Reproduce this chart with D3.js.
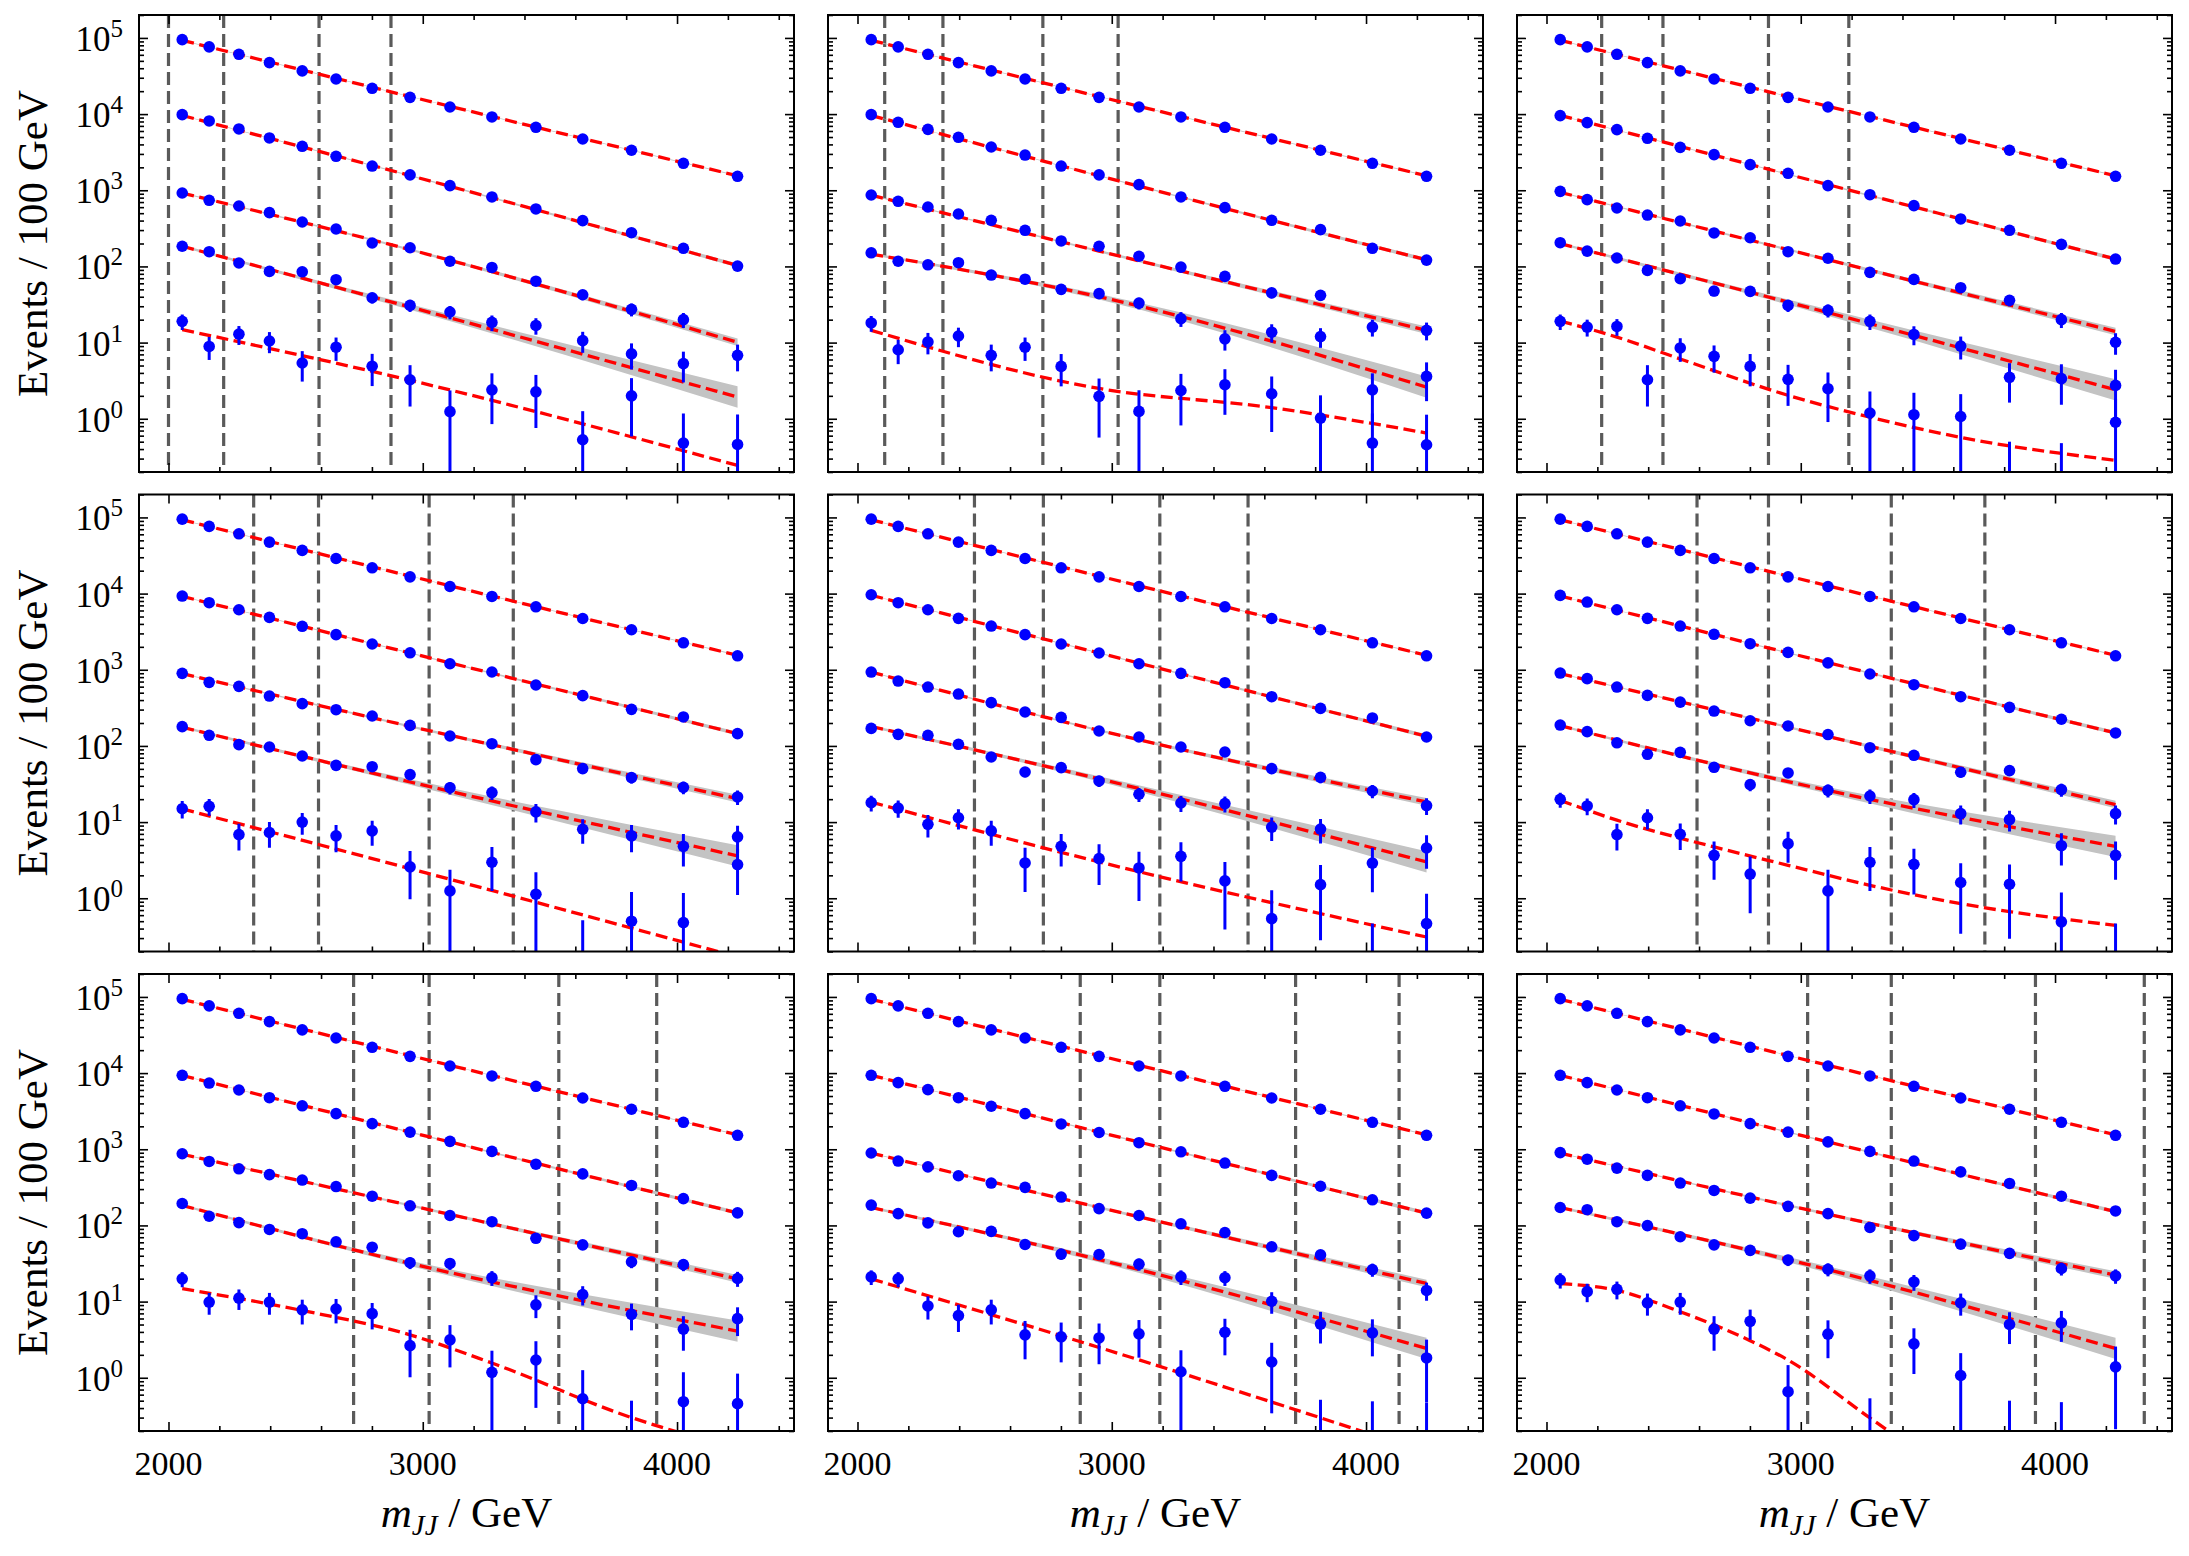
<!DOCTYPE html>
<html lang="en">
<head>
  <meta charset="UTF-8">
  <script src="https://d3js.org/d3.v7.min.js"></script>
  <style>
    body { margin: 0; background: #fff; }
    text { font-family: "Liberation Serif", "DejaVu Serif", serif; }
  </style>
  <title>mJJ fits</title>
</head>
<body>
<svg id="chart" width="2189" height="1556"></svg>
<script>
  // bin centres (GeV), shared by every panel
  var binCenters = [2054, 2160, 2277, 2397, 2526, 2659, 2801, 2950, 3107, 3272, 3445, 3629, 3821, 4025, 4238];
  var massTicks = [2000, 3000, 4000];
  var massMinor = [2200, 2400, 2600, 2800, 3200, 3400, 3600, 3800, 4200, 4400];
  var decadeExps = [0, 1, 2, 3, 4, 5];

  // top series is the same in every panel
  var countsA = [95000, 76200, 61000, 47400, 36900, 28900, 21800, 16600, 12400, 9170, 6710, 4710, 3350, 2260, 1524];
  var fitA = [[0, 93000], [7, 17000], [14, 1550]];

  // fit knots are [bin index, value]
  var counts1 = [
    [9840, 8130, 6380, 4860, 3780, 2790, 2080, 1590, 1150, 817, 568, 399, 277, 173, 101],
    [920, 738, 621, 508, 383, 310, 203, 176, 117, 97, 64, 42.5, 27.3, 20, 6.8],
    [184, 156, 111, 86, 85, 67, 38.8, 30.8, 25.2, 18.4, 16.8, 10.6, 7.1, 5.3, 0.46],
    [19, 8.9, 12.9, 10.5, 5.4, 8.7, 4.9, 3.25, 1.24, 2.4, 2.26, 0.53, 2.0, 0.48, null]];
  var fits1 = [
    [[0, 9600], [7, 1560], [14, 103]],
    [[0, 920], [7, 166], [14, 10.1]],
    [[0, 184], [7, 29.3], [14, 1.93]],
    [[0, 14.8], [7, 3.2], [14, 0.244]]];
  var windows1 = [2000, 2217, 2592, 2875];

  var counts2 = [
    [9840, 7800, 6310, 4960, 3700, 2900, 2080, 1590, 1185, 817, 592, 403, 304, 173, 121],
    [867, 716, 603, 488, 403, 298, 216, 184, 136, 98, 74, 45, 41.7, 16, 14.5],
    [151, 117, 105, 112, 77, 68, 50, 43.9, 33, 20.6, 11.2, 13.7, 12, 2.4, 3.6],
    [18.1, 8.05, 10.2, 12.2, 6.8, 8.7, 4.87, 1.97, 1.25, 2.35, 2.8, 2.13, 1.02, 0.48, 0.456]];
  var fits2 = [
    [[0, 9600], [7, 1550], [14, 122]],
    [[0, 860], [7, 159], [14, 14.5]],
    [[0, 145], [7, 40], [14, 2.6]],
    [[0, 14.5], [7, 2.5], [11, 1.4], [14, 0.65]]];
  var windows2 = [2107, 2336, 2729, 3025];

  var counts3 = [
    [9550, 7730, 6250, 4810, 3660, 2940, 2170, 1670, 1150, 875, 628, 420, 298, 195, 125],
    [968, 753, 585, 473, 395, 275, 238, 156, 128, 83.6, 67.6, 52.6, 35.9, 20, 10.1],
    [205, 159, 129, 88.7, 69, 47.5, 47, 30.8, 26.5, 19, 12.8, 9.0, 3.5, 3.36, 2.74],
    [19, 16, 16.3, 3.25, 8.5, 6.6, 4.87, 3.29, 2.48, 1.19, 1.13, 1.07, 0.134, 0.125, 0.9]];
  var fits3 = [
    [[0, 9600], [7, 1620], [14, 125]],
    [[0, 940], [7, 166], [14, 14]],
    [[0, 199], [7, 34], [14, 2.4]],
    [[0, 19.2], [2, 11.8], [4, 6.1], [7, 2.03], [9, 1.05], [11, 0.57], [14, 0.284]]];
  var windows3 = [2217, 2458, 2873, 3189];

  var counts4 = [
    [9290, 7590, 6140, 4870, 3720, 2890, 2180, 1670, 1200, 934, 631, 457, 302, 240, 145],
    [897, 684, 606, 452, 359, 299, 247, 186, 135, 107, 66, 50.4, 38.4, 28.6, 21.4],
    [179, 138, 104, 96.8, 73.8, 55.6, 53.4, 42, 28.3, 24.4, 13.6, 8.05, 6.6, 4.8, 6.4],
    [15, 16.1, 6.86, 7.3, 10, 6.6, 7.66, 2.58, 1.25, 2.97, 1.13, 0.14, 0.5, 0.48, 2.77]];
  var fits4 = [
    [[0, 9200], [7, 1660], [14, 145]],
    [[0, 890], [7, 181], [14, 20.3]],
    [[0, 176], [7, 33.6], [14, 3.6]],
    [[0, 14.9], [7, 2.45], [14, 0.17]]];
  var windows4 = [2335, 2590, 3025, 3356];

  var counts5 = [
    [9660, 7590, 6140, 4730, 3750, 2890, 2180, 1660, 1200, 897, 676, 443, 311, 233, 131],
    [933, 711, 593, 480, 370, 279, 237, 157, 131, 96.8, 83.2, 50.4, 38.7, 25.6, 16.5],
    [170, 142, 138, 105, 71.6, 45.5, 51.9, 34.7, 23.2, 17.8, 17.5, 8.6, 8.1, 2.9, 4.57],
    [18, 15.3, 9.35, 11.4, 7.66, 2.91, 4.8, 3.31, 2.5, 3.55, 1.69, 0.54, 1.51, 0.12, 0.465]];
  var fits5 = [
    [[0, 9500], [7, 1660], [14, 134]],
    [[0, 930], [7, 160], [14, 18.4]],
    [[0, 180], [7, 37], [14, 3.0]],
    [[0, 18.3], [7, 3.0], [14, 0.31]]];
  var windows5 = [2460, 2731, 3189, 3536];

  var counts6 = [
    [9470, 7740, 6140, 4730, 3750, 2920, 2200, 1690, 1230, 880, 637, 443, 321, 224, 148],
    [906, 764, 593, 461, 376, 287, 214, 183, 141, 94.8, 75.3, 45.1, 47.4, 26.7, 12.9],
    [188, 154, 110, 77.6, 82.4, 52.4, 31, 44.2, 26.1, 22, 19.7, 12.9, 10.8, 4.9, 3.66],
    [19.9, 16.3, 6.86, 11.4, 6.92, 3.66, 2.08, 5.21, 1.25, 2.97, 2.79, 1.61, 1.53, 0.49, 0.12]];
  var fits6 = [
    [[0, 9300], [7, 1670], [14, 148]],
    [[0, 890], [7, 177], [14, 17]],
    [[0, 185], [7, 34], [14, 4.8]],
    [[0, 19.3], [2, 10.6], [5, 4.72], [7, 2.71], [9, 1.48], [11, 0.85], [14, 0.44]]];
  var windows6 = [2592, 2873, 3356, 3724];

  var counts7 = [
    [9350, 7400, 6000, 4750, 3720, 2940, 2170, 1680, 1270, 937, 637, 475, 335, 225, 146],
    [873, 692, 554, 465, 394, 324, 242, 181, 135, 112, 67.8, 55.5, 33.2, 30.6, 20.1],
    [194, 132, 109, 88.6, 77.9, 61, 51.8, 32.4, 31.7, 20.6, 9.08, 12.4, 6.8, 4.35, 5.97],
    [19.9, 9.86, 11.1, 9.86, 7.8, 8.0, 6.95, 2.64, 3.14, 1.18, 1.71, 0.53, 0.134, 0.485, 0.457]];
  var fits7 = [
    [[0, 9300], [7, 1680], [14, 146]],
    [[0, 860], [7, 183], [14, 19.9]],
    [[0, 183], [7, 31.7], [14, 4.1]],
    [[0, 14.8], [4, 7.64], [7, 3.66], [9, 1.56], [12, 0.30], [14, 0.117]]];
  var windows7 = [2728, 3025, 3535, 3920];

  var counts8 = [
    [9350, 7490, 6060, 4750, 3670, 2940, 2150, 1660, 1220, 926, 659, 454, 327, 217, 145],
    [893, 700, 587, 449, 360, 316, 236, 166, 135, 105, 80.7, 52.4, 41, 26.3, 14],
    [185, 143, 108, 82.6, 83.6, 56.2, 42, 41.5, 31, 21.1, 20.6, 10.1, 5.07, 3.88, 1.82],
    [21.1, 19.9, 8.77, 6.55, 7.8, 3.66, 3.45, 3.33, 3.78, 1.2, 3.96, 1.61, 0.14, 0.13, 0.12]];
  var fits8 = [
    [[0, 9350], [7, 1680], [14, 145]],
    [[0, 890], [7, 172], [14, 17.3]],
    [[0, 172], [7, 35.6], [14, 2.43]],
    [[0, 19.9], [7, 2.5], [14, 0.105]]];
  var windows8 = [2876, 3189, 3723, 4130];

  var counts9 = [
    [9350, 7490, 6000, 4750, 3720, 2910, 2170, 1680, 1250, 937, 700, 505, 356, 242, 155],
    [904, 741, 566, 454, 360, 288, 228, 178, 143, 94, 73.5, 56.9, 43, 27.2, 21.8],
    [172, 161, 112, 99.5, 71, 55.6, 47.1, 35.2, 26.6, 21.8, 18.1, 9.64, 5.01, 5.25, 1.39],
    [19.2, 13.5, 14.5, 9.64, 9.86, 4.35, 5.5, 0.656, 3.74, 0.15, 2.79, 1.07, 0.134, 0.125, null]];
  var fits9 = [
    [[0, 9350], [7, 1680], [14, 152]],
    [[0, 890], [7, 183], [14, 22.3]],
    [[0, 172], [7, 35.6], [14, 2.43]],
    [[0, 17.3], [2, 14], [4, 7.36], [6, 3.07], [7, 1.71], [9, 0.297], [10, 0.117]]];
  var windows9 = [3027, 3356, 3923, 4351];

  // half-width of the grey fit band in decades, at the knots (bins 0, 7, 14)
  var bandHalfWidth = [[0.004, 0.004, 0.008], [0.004, 0.008, 0.025], [0.006, 0.015, 0.05], [0.015, 0.035, 0.14], null];

  var panels = [
    [counts1, fits1, windows1], [counts2, fits2, windows2], [counts3, fits3, windows3],
    [counts4, fits4, windows4], [counts5, fits5, windows5], [counts6, fits6, windows6],
    [counts7, fits7, windows7], [counts8, fits8, windows8], [counts9, fits9, windows9]
  ].map(function(p) {
    return { counts: [countsA].concat(p[0]), fits: [fitA].concat(p[1]), windows: p[2] };
  });

  var colLeft = [139, 828, 1517], rowTop = [15, 494.5, 974];
  var W = 655, H = 457;

  var x = d3.scaleLinear().domain([1884, 4460]).range([0, W]);
  var y = d3.scaleLog().domain([0.2, 2e5]).range([H, 0]);

  var minorY = [];
  [0.1, 1, 10, 100, 1000, 10000, 100000].forEach(function(d) {
    for (var k = 2; k <= 9; k++) {
      var v = k * d;
      if (v >= 0.2 && v <= 2e5) minorY.push(v);
    }
  });
  var majorY = decadeExps.map(function(e) { return Math.pow(10, e); });

  var svg = d3.select('#chart');
  svg.append('rect').attr('width', 2189).attr('height', 1556).attr('fill', '#fff');

  var fitLine = d3.line()
    .x(function(d) { return x(binCenters[d[0]]); })
    .y(function(d) { return y(d[1]); })
    .curve(d3.curveMonotoneX);

  var bandArea = d3.area()
    .x(function(d) { return x(d[0]); })
    .y0(function(d) { return y(d[1]); })
    .y1(function(d) { return y(d[2]); })
    .curve(d3.curveMonotoneX);

  function tickAxis(axis, size) {
    return function(g) {
      g.call(axis.tickSize(-size).tickFormat(''));
      g.select('.domain').remove();
      g.selectAll('line').attr('stroke', '#000').attr('stroke-width', 1.6);
    };
  }

  panels.forEach(function(p, i) {
    var col = i % 3, row = Math.floor(i / 3);
    var g = svg.append('g').attr('transform', 'translate(' + colLeft[col] + ',' + rowTop[row] + ')');
    var clipId = 'clip' + i;
    g.append('clipPath').attr('id', clipId)
      .append('rect').attr('width', W).attr('height', H);
    var plot = g.append('g').attr('clip-path', 'url(#' + clipId + ')');

    // signal windows
    plot.selectAll('.win').data(p.windows).enter().append('line')
      .attr('x1', function(d) { return x(d); }).attr('x2', function(d) { return x(d); })
      .attr('y1', 0).attr('y2', H)
      .attr('stroke', '#5a5a5a').attr('stroke-width', 3.2)
      .attr('stroke-dasharray', '13,6');

    // fit uncertainty bands
    p.fits.forEach(function(f, s) {
      var w = bandHalfWidth[s];
      if (!w || f.length !== 3) return;
      var pts = f.map(function(k, j) {
        return [binCenters[k[0]], k[1] * Math.pow(10, -w[j]), k[1] * Math.pow(10, w[j])];
      });
      plot.append('path').attr('d', bandArea(pts))
        .attr('fill', '#c3c3c3').attr('stroke', 'none');
    });

    // fits
    p.fits.forEach(function(f) {
      plot.append('path').attr('d', fitLine(f))
        .attr('fill', 'none').attr('stroke', '#ff0000')
        .attr('stroke-width', 3.3).attr('stroke-dasharray', '12,5.5');
    });

    // data with Poisson error bars as drawn
    p.counts.forEach(function(series) {
      var pts = series.map(function(v, j) { return { m: binCenters[j], v: v }; })
        .filter(function(d) { return d.v !== null; });
      plot.selectAll(null).data(pts).enter().append('line')
        .attr('x1', function(d) { return x(d.m); }).attr('x2', function(d) { return x(d.m); })
        .attr('y1', function(d) { return y(d.v + Math.sqrt(d.v)); })
        .attr('y2', function(d) {
          var lo = d.v - Math.sqrt(d.v);
          return lo > 0 ? y(lo) : H + 10;
        })
        .attr('stroke', '#0000ff').attr('stroke-width', 3);
      plot.selectAll(null).data(pts).enter().append('circle')
        .attr('cx', function(d) { return x(d.m); })
        .attr('cy', function(d) { return y(d.v); })
        .attr('r', 5.8).attr('fill', '#0000ff');
    });

    // ticks on all four sides, pointing in
    g.append('g').attr('transform', 'translate(0,' + H + ')')
      .call(tickAxis(d3.axisBottom(x).tickValues(massTicks), 9));
    g.append('g').attr('transform', 'translate(0,' + H + ')')
      .call(tickAxis(d3.axisBottom(x).tickValues(massMinor), 5));
    g.append('g').call(tickAxis(d3.axisTop(x).tickValues(massTicks), 9));
    g.append('g').call(tickAxis(d3.axisTop(x).tickValues(massMinor), 5));
    g.append('g').call(tickAxis(d3.axisLeft(y).tickValues(majorY), 9));
    g.append('g').call(tickAxis(d3.axisLeft(y).tickValues(minorY), 5));
    g.append('g').attr('transform', 'translate(' + W + ',0)')
      .call(tickAxis(d3.axisRight(y).tickValues(majorY), 9));
    g.append('g').attr('transform', 'translate(' + W + ',0)')
      .call(tickAxis(d3.axisRight(y).tickValues(minorY), 5));

    g.append('rect').attr('width', W).attr('height', H)
      .attr('fill', 'none').attr('stroke', '#000').attr('stroke-width', 2);

    // y tick labels on the left column
    if (col === 0) {
      var lab = g.selectAll('.ylab').data(decadeExps).enter().append('text')
        .attr('x', -16)
        .attr('y', function(e) { return y(Math.pow(10, e)) + 13; })
        .attr('text-anchor', 'end').attr('font-size', 35);
      lab.append('tspan').text('10');
      lab.append('tspan').attr('font-size', 25).attr('dy', -14).text(function(e) { return e; });

      svg.append('text')
        .attr('transform', 'translate(47,' + (rowTop[row] + H / 2) + ') rotate(-90)')
        .attr('text-anchor', 'middle').attr('font-size', 43)
        .text('Events / 100 GeV');
    }

    // x tick labels and title on the bottom row
    if (row === 2) {
      g.selectAll('.xlab').data(massTicks).enter().append('text')
        .attr('x', function(d) { return x(d); })
        .attr('y', H + 44)
        .attr('text-anchor', 'middle').attr('font-size', 34)
        .text(function(d) { return d; });

      var xl = g.append('text').attr('x', W / 2).attr('y', H + 96)
        .attr('text-anchor', 'middle').attr('font-size', 43);
      xl.append('tspan').attr('font-style', 'italic').text('m');
      xl.append('tspan').attr('font-style', 'italic').attr('font-size', 29).attr('dy', 8).text('JJ');
      xl.append('tspan').attr('dy', -8).text(' / GeV');
    }
  });
</script>
</body>
</html>
